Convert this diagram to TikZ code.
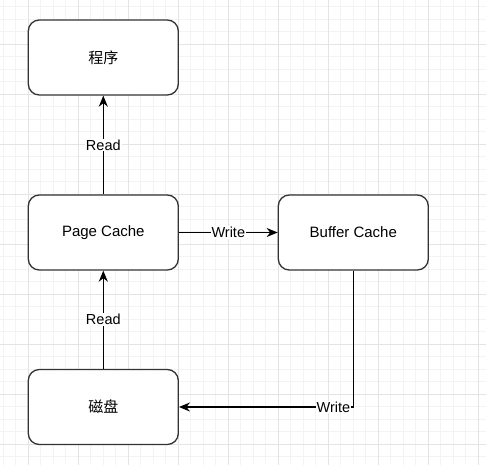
\documentclass[tikz,border=0pt]{standalone}
\usepackage{fontspec}
\setmainfont{Liberation Sans}
\newfontfamily\cjk{Noto Sans CJK SC}
\usetikzlibrary{arrows.meta}
\definecolor{gridminor}{HTML}{F3F3F3}
\definecolor{gridmajor}{HTML}{E4E4E4}
\definecolor{boxline}{HTML}{333333}
\begin{document}
\begin{tikzpicture}[x=1pt,y=-1pt,
  box/.style={draw=boxline, line width=1.3pt, rounded corners=11pt, minimum width=150pt, minimum height=75pt, fill=white, font=\fontsize{15}{18}\selectfont, inner sep=0pt},
  conn/.style={line width=1.3pt, -{Stealth[length=11pt,width=9pt,inset=3.5pt]}},
  lbl/.style={fill=white, inner sep=1pt, font=\fontsize{14.5}{17}\selectfont}]
\useasboundingbox (0,0) rectangle (486,465);
\fill[white] (0,0) rectangle (486,465);
\foreach \x in {3.3,15.8,...,486} \draw[gridminor, line width=1pt] (\x,0) -- (\x,465);
\foreach \y in {6.8,19.3,...,465} \draw[gridminor, line width=1pt] (0,\y) -- (486,\y);
\foreach \x in {28.3,78.3,...,486} \draw[gridmajor, line width=1pt] (\x,0) -- (\x,465);
\foreach \y in {44.3,94.3,...,465} \draw[gridmajor, line width=1pt] (0,\y) -- (486,\y);

\node[box] (prog) at (103.3,57.5) {\cjk 程序};
\node[box] (pc) at (103.3,232.5) {Page Cache};
\node[box] (bc) at (353.3,232.5) {Buffer Cache};
\node[box] (disk) at (103.3,407) {\cjk 磁盘};

\draw[conn] (pc) -- node[lbl]{Read} (prog);
\draw[conn] (pc) -- node[lbl]{Write} (bc);
\draw[conn] (disk) -- node[lbl]{Read} (pc);
\draw[conn] (bc.south) |- node[lbl, pos=0.557]{Write} (disk.east);
\end{tikzpicture}
\end{document}
